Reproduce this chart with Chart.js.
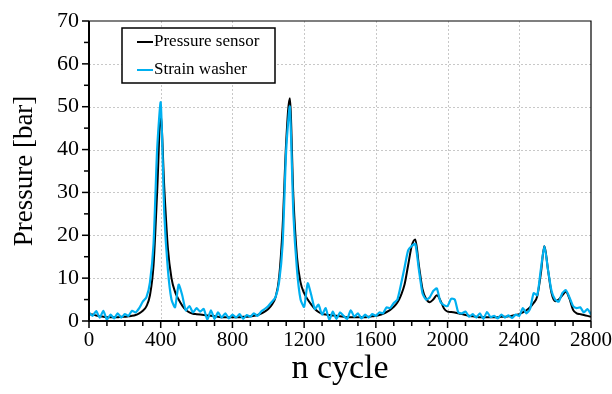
<!DOCTYPE html>
<html>
<head>
<meta charset="utf-8">
<script src="https://cdn.jsdelivr.net/npm/chart.js@4/dist/chart.umd.min.js"></script>
<style>
  html, body { margin: 0; padding: 0; background: #fff; }
  #chart { display: block; }
</style>
</head>
<body>
<canvas id="chart" width="612" height="394"></canvas>
<script>
// ---------- Data ----------
const cycles = [];
for (let c = 0; c <= 2800; c += 20) cycles.push(c);

const pressureSensor = [
  1.6, 1.5, 1.3, 1.1, 1.0, 0.9, 0.9, 0.9, 0.9, 1.0,
  1.0, 1.1, 1.2, 1.4, 1.8, 2.4, 3.4, 6.0, 13, 30,
  48, 31, 17, 10, 6.8, 5.0, 3.6, 2.6, 2.0, 1.7,
  1.6, 1.5, 1.4, 1.3, 1.2, 1.1, 1.0, 0.9, 0.9, 0.9,
  0.9, 0.9, 0.9, 1.0, 1.0, 1.1, 1.2, 1.4, 1.7, 2.2,
  2.8, 3.8, 5.5, 10, 22, 42, 52, 29, 15, 9,
  6.5, 5.0, 3.8, 2.8, 2.1, 1.7, 1.5, 1.4, 1.3, 1.2,
  1.1, 1.0, 0.9, 0.9, 0.9, 0.9, 0.9, 0.9, 1.0, 1.1,
  1.2, 1.4, 1.7, 2.1, 2.6, 3.3, 4.3, 6.0, 8.5, 13,
  17.5, 19, 13, 7.5, 5.2, 4.4, 5.0, 6.0, 4.8, 2.9,
  2.2, 2.1, 2.0, 1.8, 1.6, 1.4, 1.2, 1.1, 1.0, 0.9,
  0.9, 0.9, 0.9, 0.9, 0.9, 1.0, 1.0, 1.1, 1.2, 1.4,
  1.6, 2.0, 2.5, 3.2, 4.2, 5.8, 11, 17.5, 12, 6.5,
  4.6, 5.0, 6.0, 6.8, 5.2, 2.6, 1.8, 1.6, 1.4, 1.2,
  1.0
];

const strainWasher = [
  2.0, 1.2, 2.3, 0.8, 2.4, 0.3, 1.5, 0.6, 1.8, 0.8,
  1.6, 1.2, 2.4, 2.0, 3.0, 4.5, 5.5, 9, 18, 40,
  51, 25, 12, 5, 3.2, 8.5, 6, 2.5, 3.5, 2.0,
  3.0, 2.2, 2.8, 0.3, 2.5, 0.5, 2.0, 0.8, 1.8, 0.6,
  1.5, 0.8, 1.6, 0.5, 1.4, 1.0, 1.8, 1.2, 2.2, 2.8,
  3.5, 4.5, 5.5, 9, 18, 40, 50, 25, 12, 5,
  3.3, 8.8, 6, 2.8, 3.8, 1.5, 3.0, 0.3, 2.2, 0.5,
  2.0, 1.2, 0.5, 2.5, 1.0, 1.8, 0.6, 1.5, 0.8, 1.6,
  1.2, 2.0, 1.8, 3.2, 3.0, 4.2, 5.0, 8.5, 12.5, 16.5,
  17.5, 18, 12, 6.5, 5.0, 5.5, 7.0, 7.6, 4.5, 3.7,
  3.5, 5.2, 5.0, 2.0, 1.8, 2.2, 1.0, 1.6, 0.8, 1.8,
  0.5, 2.1, 0.9, 1.2, 0.6, 1.5, 0.8, 1.3, 0.7, 1.5,
  1.2, 3.0, 1.8, 2.8, 6.5, 6.0, 12, 17.5, 12, 7,
  5.0, 4.5, 6.5, 7.2, 5.5, 3.5, 3.0, 3.2, 2.0, 2.8,
  1.5
];

const xTicks = [0, 400, 800, 1200, 1600, 2000, 2400, 2800];
const yTicks = [0, 10, 20, 30, 40, 50, 60, 70];

const FONT = "'Liberation Serif', 'Times New Roman', serif";

// ---------- Frame, grid, tick marks, legend ----------
const frame = {
  id: 'frame',
  beforeDatasetsDraw(chart) {
    const { ctx, chartArea: a, scales: { x, y } } = chart;
    ctx.save();
    ctx.strokeStyle = '#c8c8c8';
    ctx.lineWidth = 1;
    ctx.setLineDash([2, 2]);
    xTicks.forEach(v => {
      if (v === 0 || v === 2800) return;
      const px = Math.round(x.getPixelForValue(v)) + 0.5;
      ctx.beginPath(); ctx.moveTo(px, a.top); ctx.lineTo(px, a.bottom); ctx.stroke();
    });
    yTicks.forEach(v => {
      if (v === 0 || v === 70) return;
      const py = Math.round(y.getPixelForValue(v)) + 0.5;
      ctx.beginPath(); ctx.moveTo(a.left, py); ctx.lineTo(a.right, py); ctx.stroke();
    });
    ctx.restore();
  },
  afterDatasetsDraw(chart) {
    const { ctx, chartArea: a, scales: { x, y } } = chart;
    ctx.save();
    ctx.strokeStyle = '#000';
    // top / right frame
    ctx.lineWidth = 1.2;
    ctx.beginPath();
    ctx.moveTo(a.left, a.top); ctx.lineTo(a.right, a.top); ctx.lineTo(a.right, a.bottom);
    ctx.stroke();
    // axes
    ctx.lineWidth = 2;
    ctx.beginPath();
    ctx.moveTo(a.left, a.top); ctx.lineTo(a.left, a.bottom); ctx.lineTo(a.right, a.bottom);
    ctx.stroke();
    // tick marks
    ctx.lineWidth = 1.5;
    for (let v = 0; v <= 2800; v += 100) {
      const px = x.getPixelForValue(v);
      const len = v % 400 === 0 ? 7 : 5;
      ctx.beginPath(); ctx.moveTo(px, a.bottom); ctx.lineTo(px, a.bottom + len); ctx.stroke();
    }
    for (let v = 0; v <= 70; v += 5) {
      const py = y.getPixelForValue(v);
      const len = v % 10 === 0 ? 7 : 5;
      ctx.beginPath(); ctx.moveTo(a.left, py); ctx.lineTo(a.left - len, py); ctx.stroke();
    }

    // legend box
    const bx = 122, by = 28, bw = 153, bh = 55;
    ctx.fillStyle = '#fff';
    ctx.fillRect(bx, by, bw, bh);
    ctx.lineWidth = 1.5;
    ctx.strokeRect(bx, by, bw, bh);
    ctx.font = '17px ' + FONT;
    ctx.textBaseline = 'middle';
    chart.data.datasets.forEach((ds, i) => {
      const ly = by + 14 + i * 28;
      ctx.strokeStyle = ds.borderColor;
      ctx.lineWidth = 2;
      ctx.beginPath(); ctx.moveTo(bx + 15, ly); ctx.lineTo(bx + 31, ly); ctx.stroke();
      ctx.fillStyle = '#000';
      ctx.fillText(ds.label, bx + 32, ly);
    });
    ctx.restore();
  }
};

// ---------- Chart ----------
new Chart(document.getElementById('chart').getContext('2d'), {
  type: 'line',
  data: {
    datasets: [
      {
        label: 'Pressure sensor',
        data: cycles.map((c, i) => ({ x: c, y: pressureSensor[i] })),
        borderColor: '#000000',
        borderWidth: 2,
        pointRadius: 0,
        cubicInterpolationMode: 'monotone',
        order: 1
      },
      {
        label: 'Strain washer',
        data: cycles.map((c, i) => ({ x: c, y: strainWasher[i] })),
        borderColor: '#00b0f0',
        borderWidth: 2.2,
        pointRadius: 0,
        tension: 0.2,
        order: 0
      }
    ]
  },
  options: {
    responsive: false,
    animation: false,
    layout: { padding: { top: 21, right: 21, left: 0, bottom: 0 } },
    plugins: { legend: { display: false }, tooltip: { enabled: false } },
    scales: {
      x: {
        type: 'linear',
        min: 0, max: 2800,
        afterFit(s) { s.height = 73; s.paddingLeft = 0; s.paddingRight = 0; },
        afterBuildTicks(s) { s.ticks = xTicks.map(v => ({ value: v })); },
        grid: { display: false, drawTicks: false },
        border: { display: false },
        ticks: {
          color: '#000', padding: 7, maxRotation: 0,
          font: { family: FONT, size: 21 },
          callback: v => String(v)
        },
        title: {
          display: true, text: 'n cycle', color: '#000',
          font: { family: FONT, size: 34 }, padding: { top: 0, bottom: 5 }
        }
      },
      y: {
        min: 0, max: 70,
        afterFit(s) { s.width = 89; s.paddingTop = 0; s.paddingBottom = 0; },
        afterBuildTicks(s) { s.ticks = yTicks.map(v => ({ value: v })); },
        grid: { display: false, drawTicks: false },
        border: { display: false },
        ticks: {
          color: '#000', padding: 10,
          font: { family: FONT, size: 22 },
          callback: v => String(v)
        },
        title: {
          display: true, text: 'Pressure [bar]', color: '#000',
          font: { family: FONT, size: 27 }, padding: { top: 9, bottom: 0 }
        }
      }
    }
  },
  plugins: [frame]
});
</script>
</body>
</html>
